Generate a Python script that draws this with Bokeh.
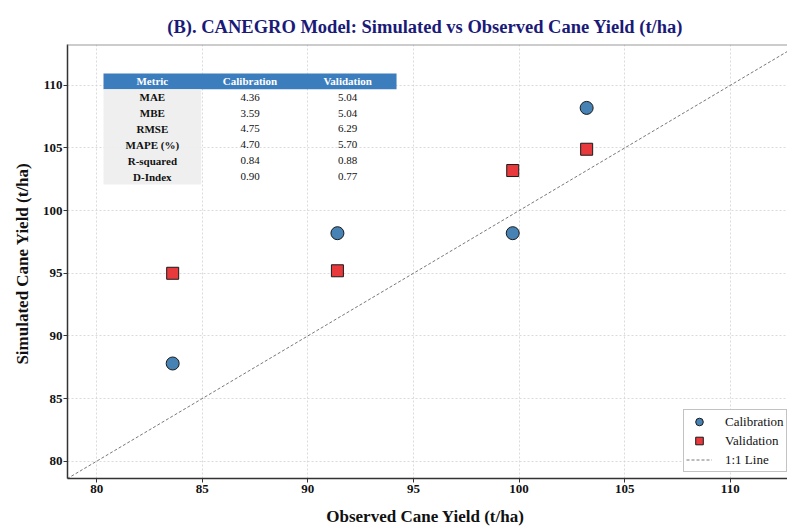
from bokeh.plotting import figure
from bokeh.models import Range1d, Span, Legend, LegendItem, FixedTicker
from bokeh.core.properties import value
from bokeh.embed import file_html
from bokeh.resources import INLINE

# ---------------- data ----------------
observed = [83.6, 91.4, 99.7, 103.2]
sim_calibration = [87.8, 98.2, 98.2, 108.2]
sim_validation = [95.0, 95.2, 103.2, 104.9]

table_header = ["Metric", "Calibration", "Validation"]
metrics = ["MAE", "MBE", "RMSE", "MAPE (%)", "R-squared", "D-Index"]
calib_vals = ["4.36", "3.59", "4.75", "4.70", "0.84", "0.90"]
valid_vals = ["5.04", "5.04", "6.29", "5.70", "0.88", "0.77"]

tick_values = [80, 85, 90, 95, 100, 105, 110]

# ---------------- layout constants ----------------
X0, X1 = 78.62, 112.71
Y0, Y1 = 78.62, 113.26
FONT = "Liberation Serif"

p = figure(width=787, height=531, output_backend="svg", toolbar_location=None,
           x_range=Range1d(X0, X1), y_range=Range1d(Y0, Y1),
           min_border_left=67, min_border_right=0, min_border_top=44, min_border_bottom=53)

p.title.text = "(B). CANEGRO Model: Simulated vs Observed Cane Yield  (t/ha)"
p.title.text_font = FONT
p.title.text_font_size = "18.5px"
p.title.text_font_style = "bold"
p.title.text_color = "#1a1a78"
p.title.align = "center"
p.title.vertical_align = "top"
p.title.standoff = 12

for ax in (p.xaxis[0], p.yaxis[0]):
    ax.ticker = FixedTicker(ticks=tick_values)
    ax.axis_line_color = "#333333"
    ax.axis_line_width = 1.5
    ax.major_tick_line_color = "#333333"
    ax.major_tick_out = 4
    ax.major_tick_in = 0
    ax.minor_tick_line_color = None
    ax.major_label_text_font = FONT
    ax.major_label_text_font_size = "13px"
    ax.major_label_text_font_style = "bold"
    ax.major_label_text_color = "#111111"
    ax.axis_label_text_font = FONT
    ax.axis_label_text_font_size = "17px"
    ax.axis_label_text_font_style = "bold"
    ax.axis_label_text_color = "#111111"

p.xaxis.axis_label = "Observed Cane Yield  (t/ha)"
p.yaxis.axis_label = "Simulated Cane Yield  (t/ha)"
p.xaxis.major_label_standoff = 2
p.xaxis.axis_label_standoff = 11
p.yaxis.major_label_standoff = 1
p.yaxis.axis_label_standoff = 8

p.grid.grid_line_color = "#d2d2d2"
p.grid.grid_line_dash = "2 2"
p.grid.grid_line_width = 0.8

p.outline_line_color = None
p.add_layout(Span(location=Y1, dimension="width", line_color="#999999", line_width=2))

# ---------------- table (axes-fraction layout) ----------------
def fx(f):
    return X0 + f * (X1 - X0)

def fy(f):
    return Y0 + f * (Y1 - Y0)

col_edges = [0.05, 0.1857, 0.3213, 0.457]
row_top = 1 - 0.0668
row_h = 0.03654
n_rows = len(metrics) + 1

p.quad(left=[fx(col_edges[0])], right=[fx(col_edges[3])],
       top=[fy(row_top)], bottom=[fy(row_top - row_h)],
       fill_color="#3c7dbd", line_color=None)
p.quad(left=[fx(col_edges[0])], right=[fx(col_edges[1])],
       top=[fy(row_top - row_h)], bottom=[fy(row_top - n_rows * row_h)],
       fill_color="#eeeeee", fill_alpha=0.92, line_color=None)

col_centers = [fx((col_edges[i] + col_edges[i + 1]) / 2) for i in range(3)]
hdr_y = fy(row_top - row_h / 2)
p.text(x=col_centers, y=[hdr_y] * 3, text=table_header,
       text_font=value(FONT), text_font_size="11px", text_font_style="bold",
       text_color="white", text_align="center", text_baseline="middle")

row_ys = [fy(row_top - (i + 1.5) * row_h) for i in range(len(metrics))]
p.text(x=[col_centers[0]] * len(metrics), y=row_ys, text=metrics,
       text_font=value(FONT), text_font_size="11px", text_font_style="bold",
       text_color="#111111", text_align="center", text_baseline="middle")
p.text(x=[col_centers[1]] * len(metrics), y=row_ys, text=calib_vals,
       text_font=value(FONT), text_font_size="11px",
       text_color="#111111", text_align="center", text_baseline="middle")
p.text(x=[col_centers[2]] * len(metrics), y=row_ys, text=valid_vals,
       text_font=value(FONT), text_font_size="11px",
       text_color="#111111", text_align="center", text_baseline="middle")

# ---------------- 1:1 line & points ----------------
all_vals = observed + sim_calibration + sim_validation
lo, hi = min(all_vals) - 5, max(all_vals) + 5
r_line = p.line([lo, hi], [lo, hi], line_color="#555555", line_width=0.8, line_dash="3 2")

r_cal = p.scatter(observed, sim_calibration, marker="circle", size=13,
                  fill_color="#4682b4", line_color="#1a1a1a", line_width=1)
r_val = p.scatter(observed, sim_validation, marker="square", size=12,
                  fill_color="#e8393d", line_color="#1a1a1a", line_width=1)

legend = Legend(items=[LegendItem(label="Calibration", renderers=[r_cal]),
                       LegendItem(label="Validation", renderers=[r_val]),
                       LegendItem(label="1:1 Line", renderers=[r_line])],
                location=(616, 6))
legend.label_text_font = FONT
legend.label_text_font_size = "13px"
legend.label_text_color = "#111111"
legend.glyph_width = 26
legend.glyph_height = 19
legend.label_height = 19
legend.spacing = 0
legend.padding = 2
legend.margin = 0
legend.label_standoff = 13
legend.border_line_color = "#888888"
legend.border_line_width = 1.2
legend.background_fill_color = "white"
legend.background_fill_alpha = 1.0
p.add_layout(legend)

open("out.html", "w").write(file_html(p, INLINE))
